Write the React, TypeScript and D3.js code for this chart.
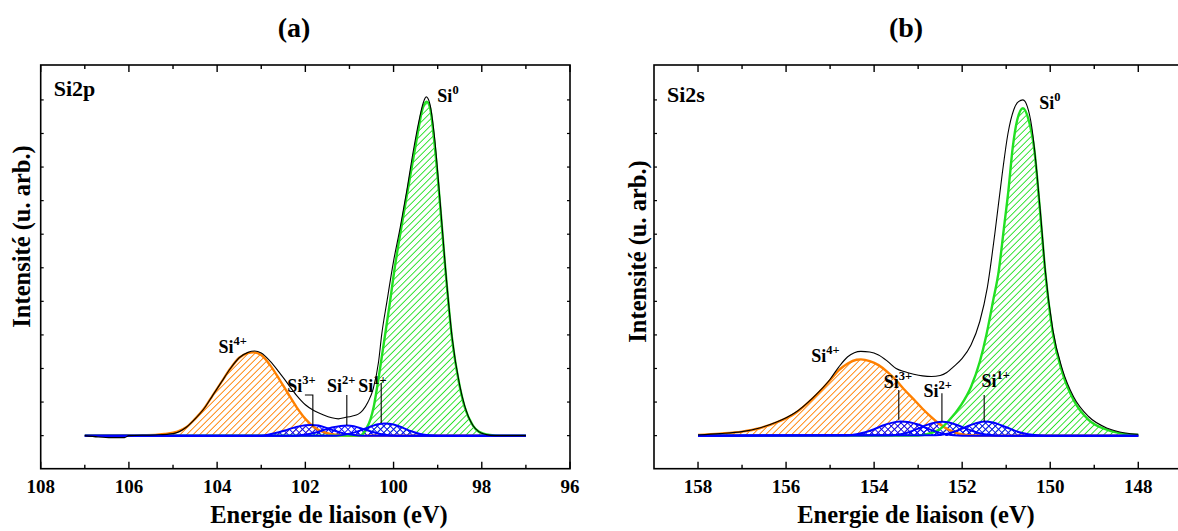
import React from 'react';
import * as d3 from 'd3';

type Pt = [number, number];

// ---------- Panel (a) : Si2p ----------
const si2pEnvelope: Pt[] = [
  [107.0, 0], [106.7, -0.004], [106.4, -0.006], [106.1, -0.006], [106.0, 0], [105.4, 0.002], [105.0, 0.006],
  [104.7, 0.025], [104.5, 0.05], [104.3, 0.08], [104.1, 0.12], [103.9, 0.16], [103.7, 0.2], [103.5, 0.232],
  [103.3, 0.248], [103.15, 0.252], [103.0, 0.246], [102.8, 0.222], [102.6, 0.19], [102.4, 0.155], [102.2, 0.12],
  [102.0, 0.092], [101.8, 0.074], [101.6, 0.062], [101.4, 0.053], [101.25, 0.05], [101.1, 0.054], [100.95, 0.058],
  [100.8, 0.064], [100.7, 0.075], [100.58, 0.1], [100.46, 0.14], [100.34, 0.22], [100.27, 0.3], [100.15, 0.4],
  [100.0, 0.52], [99.85, 0.62], [99.7, 0.73], [99.55, 0.85], [99.42, 0.94], [99.33, 0.99], [99.26, 1.009],
  [99.18, 0.99], [99.08, 0.9], [98.94, 0.69], [98.83, 0.51], [98.67, 0.29], [98.5, 0.15], [98.39, 0.09],
  [98.2, 0.03], [98.07, 0.012], [97.9, 0.003], [97.7, 0], [97.0, 0],
];
const si2pSi0: Pt[] = [
  [107, 0], [101, 0], [100.76, 0], [100.62, 0.02], [100.52, 0.05], [100.45, 0.086], [100.33, 0.18], [100.21, 0.285],
  [100.09, 0.39], [99.97, 0.503], [99.85, 0.6], [99.72, 0.7], [99.6, 0.79], [99.48, 0.88], [99.34, 0.975],
  [99.25, 0.995], [99.17, 0.975], [99.08, 0.88], [98.94, 0.68], [98.83, 0.503], [98.67, 0.285], [98.52, 0.16],
  [98.39, 0.086], [98.2, 0.03], [98.07, 0.012], [97.82, 0.002], [97.6, 0], [97, 0],
];
const si2pSi4: Pt[] = [
  [107, 0], [105.6, 0.001], [105.2, 0.005], [104.9, 0.012], [104.7, 0.025], [104.5, 0.05], [104.3, 0.08],
  [104.1, 0.12], [103.9, 0.16], [103.7, 0.2], [103.5, 0.232], [103.3, 0.246], [103.18, 0.248], [103.0, 0.24],
  [102.8, 0.21], [102.6, 0.17], [102.4, 0.127], [102.2, 0.085], [102.0, 0.05], [101.8, 0.025], [101.6, 0.011],
  [101.4, 0.004], [101.0, 0], [97, 0],
];
const si2pSi3: Pt[] = [
  [107, 0], [103.0, 0], [102.8, 0.004], [102.6, 0.01], [102.4, 0.018], [102.2, 0.026], [102.0, 0.031],
  [101.87, 0.032], [101.7, 0.03], [101.5, 0.022], [101.3, 0.013], [101.1, 0.006], [100.9, 0.002], [100.7, 0], [97, 0],
];
const si2pSi2: Pt[] = [
  [107, 0], [102.2, 0], [102.0, 0.003], [101.8, 0.008], [101.6, 0.016], [101.4, 0.024], [101.2, 0.029],
  [101.06, 0.03], [100.9, 0.028], [100.7, 0.02], [100.5, 0.012], [100.3, 0.005], [100.1, 0.001], [99.9, 0], [97, 0],
];
const si2pSi1: Pt[] = [
  [107, 0], [101.3, 0], [101.1, 0.003], [100.9, 0.009], [100.7, 0.018], [100.5, 0.028], [100.35, 0.034],
  [100.2, 0.036], [100.0, 0.033], [99.8, 0.024], [99.6, 0.013], [99.4, 0.005], [99.2, 0.001], [99.0, 0], [97, 0],
];

// ---------- Panel (b) : Si2s ----------
const si2sEnvelope: Pt[] = [
  [158, 0.002], [157.5, 0.006], [157.0, 0.012], [156.6, 0.023], [156.2, 0.041], [155.8, 0.068], [155.4, 0.112],
  [155.0, 0.168], [154.8, 0.205], [154.6, 0.235], [154.45, 0.247], [154.3, 0.251], [154.1, 0.249], [153.9, 0.24],
  [153.7, 0.222], [153.5, 0.2], [153.3, 0.19], [153.1, 0.183], [152.9, 0.178], [152.7, 0.176], [152.5, 0.179],
  [152.35, 0.188], [152.2, 0.205], [152.0, 0.23], [151.8, 0.27], [151.6, 0.34], [151.43, 0.44], [151.26, 0.6],
  [151.09, 0.78], [150.96, 0.9], [150.83, 0.97], [150.72, 0.995], [150.62, 1.0], [150.52, 0.98], [150.42, 0.92],
  [150.3, 0.78], [150.2, 0.63], [150.11, 0.49], [149.94, 0.315], [149.72, 0.196], [149.47, 0.116], [149.13, 0.057],
  [148.7, 0.022], [148.3, 0.008], [148.0, 0.004],
];
const si2sSi0: Pt[] = [
  [158, 0], [153.0, 0], [152.7, 0.008], [152.5, 0.02], [152.3, 0.045], [152.03, 0.09], [151.8, 0.145], [151.6, 0.22],
  [151.45, 0.3], [151.3, 0.4], [151.17, 0.49], [151.05, 0.62], [150.95, 0.73], [150.85, 0.86], [150.75, 0.94],
  [150.62, 0.975], [150.49, 0.94], [150.36, 0.85], [150.24, 0.682], [150.11, 0.484], [149.94, 0.305],
  [149.72, 0.186], [149.47, 0.106], [149.13, 0.047], [148.7, 0.017], [148.3, 0.005], [148.0, 0.002],
];
const si2sSi4: Pt[] = [
  [158, 0.002], [157.5, 0.006], [157.0, 0.012], [156.6, 0.022], [156.2, 0.04], [155.8, 0.066], [155.4, 0.11],
  [155.0, 0.165], [154.8, 0.195], [154.6, 0.215], [154.4, 0.226], [154.3, 0.227], [154.1, 0.222], [153.9, 0.21],
  [153.7, 0.19], [153.5, 0.165], [153.3, 0.135], [153.1, 0.108], [152.9, 0.08], [152.7, 0.055], [152.5, 0.033],
  [152.3, 0.017], [152.1, 0.007], [151.85, 0.001], [151.5, 0], [148, 0],
];
const si2sSi3: Pt[] = [
  [158, 0], [154.6, 0.001], [154.4, 0.004], [154.2, 0.01], [154.0, 0.019], [153.8, 0.03], [153.6, 0.038],
  [153.4, 0.042], [153.2, 0.04], [153.0, 0.033], [152.8, 0.022], [152.6, 0.012], [152.4, 0.005], [152.2, 0.001],
  [152.0, 0], [148, 0],
];
const si2sSi2: Pt[] = [
  [158, 0], [153.6, 0.001], [153.4, 0.004], [153.2, 0.011], [153.0, 0.021], [152.8, 0.032], [152.6, 0.039],
  [152.45, 0.041], [152.3, 0.039], [152.1, 0.031], [151.9, 0.02], [151.7, 0.011], [151.5, 0.004], [151.3, 0.001],
  [151.1, 0], [148, 0],
];
const si2sSi1: Pt[] = [
  [158, 0], [152.6, 0.001], [152.4, 0.004], [152.2, 0.011], [152.0, 0.021], [151.8, 0.032], [151.6, 0.04],
  [151.5, 0.042], [151.3, 0.039], [151.1, 0.03], [150.9, 0.02], [150.7, 0.01], [150.5, 0.004], [150.3, 0.001],
  [150.1, 0], [148, 0],
];

// ---------- Axes ----------
const si2pMajorTicks = [108, 106, 104, 102, 100, 98, 96];
const si2pMinorTicks = [107, 105, 103, 101, 99, 97];
const si2sMajorTicks = [158, 156, 154, 152, 150, 148];
const si2sMinorTicks = [157, 155, 153, 151, 149];
const intensityTicks = [0, 0.1, 0.2, 0.3, 0.4, 0.5, 0.6, 0.7, 0.8, 0.9, 1.0];

// ---------- Annotations (data coordinates) ----------
const si2pLabels = [
  { sup: '0', e: 99.007, i: 0.995 },
  { sup: '4+', e: 103.97, i: 0.246 },
  { sup: '3+', e: 102.41, i: 0.131 },
  { sup: '2+', e: 101.51, i: 0.131 },
  { sup: '1+', e: 100.8, i: 0.131 },
];
const si2pLeaders: Pt[][] = [
  [[102.01, 0.121], [101.83, 0.121], [101.83, 0.027]],
  [[101.06, 0.121], [101.06, 0.032]],
  [[100.28, 0.157], [100.28, 0.038]],
];
const si2sLabels = [
  { sup: '0', e: 150.25, i: 0.973 },
  { sup: '4+', e: 155.43, i: 0.22 },
  { sup: '3+', e: 153.78, i: 0.141 },
  { sup: '2+', e: 152.88, i: 0.116 },
  { sup: '1+', e: 151.56, i: 0.146 },
];
const si2sLeaders: Pt[][] = [
  [[153.44, 0.136], [153.44, 0.047]],
  [[152.46, 0.126], [152.46, 0.042]],
  [[151.5, 0.121], [151.5, 0.042]],
];

const FONT = "'Liberation Serif', 'Times New Roman', Times, serif";
const ORANGE = '#FF8000';
const GREEN = '#22E022';
const BLUE = '#0000FF';

const FRAME_TOP = 65;
const FRAME_BOTTOM = 468.7;

interface PanelProps {
  id: string;
  title: string;
  name: string;
  nameY: number;
  xDomain: [number, number];
  xRange: [number, number];
  titleX: number;
  xLabelX: number;
  yLabelX: number;
  yLabelY: number;
  major: number[];
  minor: number[];
  envelope: Pt[];
  si0: Pt[];
  si4: Pt[];
  subs: Pt[][];
  labels: { sup: string; e: number; i: number }[];
  leaders: Pt[][];
}

function Panel(p: PanelProps) {
  const x = d3.scaleLinear().domain(p.xDomain).range(p.xRange);
  const y = d3.scaleLinear().domain([-0.0985, 1.104]).range([FRAME_BOTTOM, FRAME_TOP]);
  const area = d3
    .area<Pt>()
    .x((d) => x(d[0]))
    .y0(y(0))
    .y1((d) => y(d[1]))
    .curve(d3.curveMonotoneX);
  const line = d3
    .line<Pt>()
    .x((d) => x(d[0]))
    .y((d) => y(d[1]))
    .curve(d3.curveMonotoneX);
  const straight = d3
    .line<Pt>()
    .x((d) => x(d[0]))
    .y((d) => y(d[1]));
  const [x0, x1] = p.xRange;
  const clipId = `clip-${p.id}`;
  return (
    <g>
      <defs>
        <clipPath id={clipId}>
          <rect x={x0} y={FRAME_TOP} width={x1 - x0} height={FRAME_BOTTOM - FRAME_TOP} />
        </clipPath>
      </defs>
      <g clipPath={`url(#${clipId})`}>
        <path d={area(p.si4) || ''} fill="url(#hatchOrange)" />
        <path d={area(p.si0) || ''} fill="url(#hatchGreen)" />
        {p.subs.map((s, k) => (
          <path key={k} d={area(s) || ''} fill="url(#hatchBlue)" />
        ))}
        <path d={line(p.si4) || ''} fill="none" stroke={ORANGE} strokeWidth={2.4} />
        <path d={line(p.si0) || ''} fill="none" stroke={GREEN} strokeWidth={2.4} />
        {p.subs.map((s, k) => (
          <path key={k} d={line(s) || ''} fill="none" stroke={BLUE} strokeWidth={2} />
        ))}
        <path d={line(p.envelope) || ''} fill="none" stroke="#000" strokeWidth={1.1} />
        {p.leaders.map((l, k) => (
          <path key={k} d={straight(l) || ''} fill="none" stroke="#000" strokeWidth={1.1} />
        ))}
      </g>
      {/* frame */}
      <rect x={x0} y={FRAME_TOP} width={x1 - x0} height={FRAME_BOTTOM - FRAME_TOP} fill="none" stroke="#000" strokeWidth={1.6} />
      {p.major.map((t) => (
        <g key={`M${t}`}>
          <line x1={x(t)} x2={x(t)} y1={FRAME_BOTTOM} y2={FRAME_BOTTOM - 7} stroke="#000" strokeWidth={1.4} />
          <line x1={x(t)} x2={x(t)} y1={FRAME_TOP} y2={FRAME_TOP + 7} stroke="#000" strokeWidth={1.4} />
          <text x={x(t)} y={493} textAnchor="middle" fontFamily={FONT} fontWeight="bold" fontSize={19}>
            {t}
          </text>
        </g>
      ))}
      {p.minor.map((t) => (
        <g key={`m${t}`}>
          <line x1={x(t)} x2={x(t)} y1={FRAME_BOTTOM} y2={FRAME_BOTTOM - 4} stroke="#000" strokeWidth={1.4} />
          <line x1={x(t)} x2={x(t)} y1={FRAME_TOP} y2={FRAME_TOP + 4} stroke="#000" strokeWidth={1.4} />
        </g>
      ))}
      {intensityTicks.map((t) => (
        <g key={`y${t}`}>
          <line x1={x0} x2={x0 + 3} y1={y(t)} y2={y(t)} stroke="#000" strokeWidth={1.2} />
          <line x1={x1} x2={x1 - 3} y1={y(t)} y2={y(t)} stroke="#000" strokeWidth={1.2} />
        </g>
      ))}
      {/* labels */}
      {p.labels.map((l, k) => (
        <text key={k} x={x(l.e)} y={y(l.i)} fontFamily={FONT} fontWeight="bold" fontSize={18}>
          Si
          <tspan dy={-8} fontSize={12.5}>
            {l.sup}
          </tspan>
        </text>
      ))}
      <text x={x0 + 13} y={p.nameY} fontFamily={FONT} fontWeight="bold" fontSize={22}>
        {p.name}
      </text>
      <text x={p.titleX} y={37} textAnchor="middle" fontFamily={FONT} fontWeight="bold" fontSize={28}>
        {p.title}
      </text>
      <text x={p.xLabelX} y={523} textAnchor="middle" fontFamily={FONT} fontWeight="bold" fontSize={24.5}>
        Energie de liaison (eV)
      </text>
      <text
        transform={`translate(${p.yLabelX},${p.yLabelY}) rotate(-90)`}
        textAnchor="middle"
        dy="0.35em"
        fontFamily={FONT}
        fontWeight="bold"
        fontSize={24.5}
      >
        Intensité (u. arb.)
      </text>
    </g>
  );
}

export default function App() {
  return (
    <svg
      width={1178}
      height={531}
      style={{ position: 'absolute', left: 0, top: 0, background: '#fff' }}
      xmlns="http://www.w3.org/2000/svg"
    >
      <defs>
        <pattern id="hatchOrange" patternUnits="userSpaceOnUse" width={4.6} height={4.6} patternTransform="rotate(45)">
          <line x1={2.3} y1={0} x2={2.3} y2={4.6} stroke={ORANGE} strokeWidth={0.9} />
        </pattern>
        <pattern id="hatchGreen" patternUnits="userSpaceOnUse" width={4.6} height={4.6} patternTransform="rotate(45)">
          <line x1={2.3} y1={0} x2={2.3} y2={4.6} stroke={GREEN} strokeWidth={0.9} />
        </pattern>
        <pattern id="hatchBlue" patternUnits="userSpaceOnUse" width={4.6} height={4.6} patternTransform="rotate(45)">
          <line x1={2.3} y1={0} x2={2.3} y2={4.6} stroke={BLUE} strokeWidth={0.9} />
          <line x1={0} y1={2.3} x2={4.6} y2={2.3} stroke={BLUE} strokeWidth={0.9} />
        </pattern>
      </defs>
      <rect x={0} y={0} width={1178} height={531} fill="#fff" />
      <Panel
        id="a"
        title="(a)"
        name="Si2p"
        nameY={96}
        xDomain={[108, 96]}
        xRange={[40.7, 570]}
        titleX={294}
        xLabelX={329}
        yLabelX={21.5}
        yLabelY={236.5}
        major={si2pMajorTicks}
        minor={si2pMinorTicks}
        envelope={si2pEnvelope}
        si0={si2pSi0}
        si4={si2pSi4}
        subs={[si2pSi3, si2pSi2, si2pSi1]}
        labels={si2pLabels}
        leaders={si2pLeaders}
      />
      <Panel
        id="b"
        title="(b)"
        name="Si2s"
        nameY={101.5}
        xDomain={[159, 147]}
        xRange={[654, 1182.3]}
        titleX={906}
        xLabelX={916}
        yLabelX={637}
        yLabelY={251.5}
        major={si2sMajorTicks}
        minor={si2sMinorTicks}
        envelope={si2sEnvelope}
        si0={si2sSi0}
        si4={si2sSi4}
        subs={[si2sSi3, si2sSi2, si2sSi1]}
        labels={si2sLabels}
        leaders={si2sLeaders}
      />
    </svg>
  );
}
